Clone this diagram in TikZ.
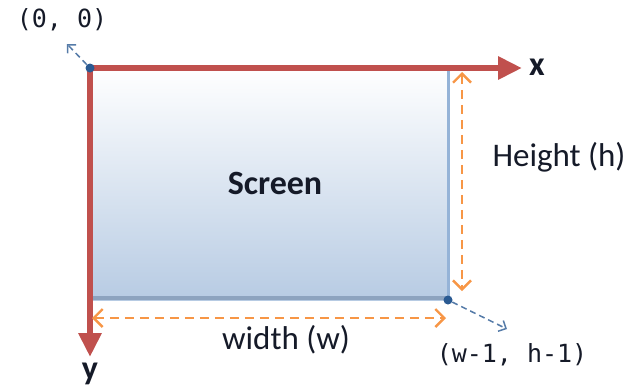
\documentclass[tikz,border=0pt]{standalone}
\usepackage{fontspec}
\setmainfont{Carlito}
\setmonofont{DejaVu Sans Mono}
\usepackage{xcolor}
\usetikzlibrary{arrows.meta,positioning}
\definecolor{axisred}{HTML}{C0504D}
\definecolor{dimorange}{HTML}{F79646}
\definecolor{dotblue}{HTML}{2A5A92}
\definecolor{scrblue}{HTML}{B7CBE3}
\definecolor{edgeblue}{HTML}{95B3D7}
\definecolor{edgegrey}{HTML}{8DA3BF}
\definecolor{ink}{HTML}{151A28}
\tikzset{
  axis/.style={line width=6pt,axisred,-{Triangle[length=24pt,width=22pt]}},
  dim/.style={line width=2.4pt,dimorange,dash pattern=on 9pt off 6pt,{Straight Barb[length=9pt,width=18pt]}-{Straight Barb[length=9pt,width=18pt]}},
  ptr/.style={line width=1.5pt,dotblue!80,dash pattern=on 6pt off 4pt,-{Straight Barb[length=6pt,width=12pt]}},
  dot/.style={circle,fill=dotblue,inner sep=0pt,minimum size=9pt},
  txt/.style={text=ink,font=\fontsize{33}{38}\selectfont},
  mono/.style={text=ink,font=\ttfamily\fontsize{25}{29}\selectfont},
  ax/.style={text=ink,font=\bfseries\fontsize{34}{38}\selectfont}
}

\begin{document}
\begin{tikzpicture}[x=1pt,y=-1pt]
    \useasboundingbox (0,0) rectangle (642,389);
    % screen area
    \node[top color=white,bottom color=scrblue,minimum width=358pt,minimum height=232pt,inner sep=0pt,anchor=north west] (scr) at (90,68) {};
    \node[text=ink,font=\bfseries\fontsize{34}{38}\selectfont] (scrl) at (275,183) {Screen};
    \draw[edgeblue,line width=2.5pt] (scr.north east) -- (scr.south east);
    \draw[edgegrey,line width=4pt] ([yshift=2pt]scr.south west) -- ([yshift=2pt]scr.south east);

    % axes
    \coordinate (o) at (90,68);
    \coordinate (xend) at (522,68);
    \coordinate (yend) at (90,357);
    \draw[axis] (o) -- (xend);
    \draw[axis] (o) -- (yend);
    \node[ax] (xl) at (537,67) {x};
    \node[ax] (yl) at (90,374) {y};

    % corners
    \node[dot] (tl) at (o) {};
    \node[dot] (br) at (448,300) {};
    \coordinate (tlp) at (67,44);
    \coordinate (brp) at (507,329);
    \draw[ptr] (tl) -- (tlp);
    \draw[ptr] (br) -- (brp);
    \node[mono] (orig) at (62,20) {(0, 0)};
    \node[mono] (last) at (512,355) {(w-1, h-1)};

    % dimensions
    \coordinate (ht) at (462,72);
    \coordinate (hb) at (462,291);
    \coordinate (wl) at (92,318);
    \coordinate (wr) at (446,318);
    \draw[dim] (ht) -- (hb);
    \draw[dim] (wl) -- (wr);
    \node[txt] (hl) at (559,157) {Height (h)};
    \node[txt] (wlab) at (286,340) {width (w)};
\end{tikzpicture}
\end{document}
